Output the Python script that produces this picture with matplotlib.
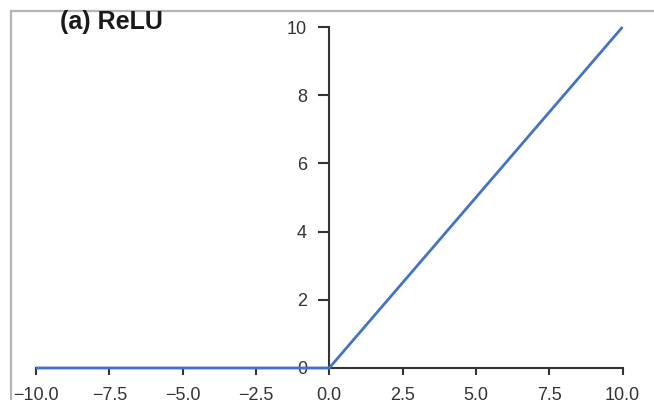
import matplotlib
matplotlib.use("Agg")
import matplotlib.pyplot as plt
from matplotlib.patches import Rectangle

# Data
x_vals = [-10.0, 0.0, 10.0]
y_vals = [0.0, 0.0, 10.0]
x_ticks = [-10.0, -7.5, -5.0, -2.5, 0.0, 2.5, 5.0, 7.5, 10.0]
y_ticks = [0, 2, 4, 6, 8, 10]
title = "(a) ReLU"

plt.rcParams['font.family'] = ['Liberation Sans', 'DejaVu Sans']

W, H = 654, 400
fig = plt.figure(figsize=(W / 100, H / 100), dpi=100)

# outer gray frame (cropped at right/bottom)
fig.patches.append(Rectangle((11 / W, -0.1), 2.0, 1.1 - 11 / H,
                             transform=fig.transFigure, fill=False,
                             edgecolor='#b4b4b4', linewidth=1.6))

left, right = 36 / W, 622.5 / W
bottom, top = (H - 368) / H, (H - 27) / H
ax = fig.add_axes([left, bottom, right - left, top - bottom])
ax.set_xlim(-10, 10)
ax.set_ylim(0, 10)
ax.patch.set_alpha(0)

ax.plot(x_vals, y_vals, color='#4472c4', linewidth=2.0, clip_on=False,
        solid_capstyle='butt', zorder=3)

for s in ['top', 'right']:
    ax.spines[s].set_visible(False)
ax.spines['left'].set_position(('data', 0))
ax.spines['bottom'].set_position(('data', 0))
for s in ['left', 'bottom']:
    ax.spines[s].set_color('#333333')
    ax.spines[s].set_linewidth(1.5)

ax.set_xticks(x_ticks)
ax.set_xticklabels([f"{v:.1f}".replace('-', '\u2212') for v in x_ticks])
ax.set_yticks(y_ticks)
ax.set_yticklabels([str(v) for v in y_ticks])
ax.tick_params(axis='x', direction='out', length=5, width=1.5, color='#333333',
               labelsize=13, labelcolor='#333333', pad=9)
ax.tick_params(axis='y', direction='out', length=8, width=1.5, color='#333333',
               labelsize=13, labelcolor='#333333', pad=8)

fig.text(60 / W, 1 - 22 / H, title, fontsize=18, fontweight='bold',
         color='#1a1a1a', ha='left', va='center')

fig.savefig('out.png', dpi=100)
